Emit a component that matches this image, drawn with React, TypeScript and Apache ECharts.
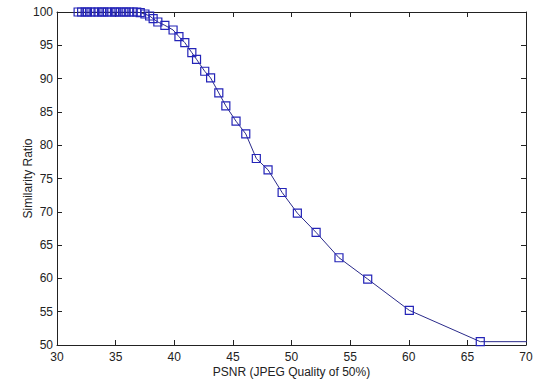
import React, { useEffect, useRef } from "react";
import * as echarts from "echarts";

const psnr: number[] = [
  31.8, 32.1, 32.4, 32.6, 32.9, 33.2, 33.5, 33.8, 34.0, 34.3, 34.6, 34.9, 35.1, 35.4,
  35.7, 35.9, 36.2, 36.5, 36.8, 37.1, 37.5, 37.9, 38.2, 38.6, 39.2, 39.9, 40.4, 40.9,
  41.5, 41.9, 42.6, 43.1, 43.8, 44.4, 45.27, 46.1, 47.0, 48.0, 49.2, 50.5, 52.1, 54.05,
  56.5, 60.05, 66.1, 75,
];
const similarity: number[] = [
  100, 100, 100, 100, 100, 100, 100, 100, 100, 100, 100, 100, 100, 100,
  100, 100, 100, 100, 100, 99.9, 99.7, 99.4, 99.0, 98.5, 98.0, 97.3, 96.3, 95.4,
  93.9, 92.9, 91.1, 90.1, 87.85, 85.9, 83.6, 81.7, 78.0, 76.3, 72.9, 69.8, 66.9, 63.1,
  59.9, 55.2, 50.5, 50.5,
];
const xTitle = "PSNR (JPEG Quality of 50%)";
const yTitle = "Similarity Ratio";

export default function App() {
  const ref = useRef<HTMLDivElement>(null);
  useEffect(() => {
    if (!ref.current) return;
    const chart = echarts.init(ref.current, null, { renderer: "svg" });
    const font = "Liberation Sans, Arial, sans-serif";
    const axisLine = { show: true, lineStyle: { color: "#222", width: 1 } };
    const tick = { show: true, inside: true, length: 5, lineStyle: { color: "#222" } };
    chart.setOption({
      animation: false,
      backgroundColor: "#fff",
      grid: { left: 57, right: 10, top: 12, bottom: 35, containLabel: false, outerBoundsMode: "none" },
      xAxis: [
        {
          type: "value",
          min: 30,
          max: 70,
          interval: 5,
          axisLine,
          axisTick: tick,
          splitLine: { show: false },
          axisLabel: { color: "#222", fontSize: 12, fontFamily: font, margin: 6 },
          name: xTitle,
          nameLocation: "middle",
          nameGap: 21,
          nameMoveOverlap: false,
          nameTextStyle: { color: "#222", fontSize: 12, fontFamily: font },
        },
        {
          type: "value",
          position: "top",
          min: 30,
          max: 70,
          interval: 5,
          axisLine,
          axisTick: tick,
          splitLine: { show: false },
          axisLabel: { show: false },
        },
      ],
      yAxis: [
        {
          type: "value",
          min: 50,
          max: 100,
          interval: 5,
          axisLine,
          axisTick: tick,
          splitLine: { show: false },
          axisLabel: { color: "#222", fontSize: 12, fontFamily: font, margin: 4 },
          name: yTitle,
          nameLocation: "middle",
          nameGap: 23,
          nameMoveOverlap: false,
          nameTextStyle: { color: "#222", fontSize: 12, fontFamily: font },
        },
        {
          type: "value",
          position: "right",
          min: 50,
          max: 100,
          interval: 5,
          axisLine,
          axisTick: tick,
          splitLine: { show: false },
          axisLabel: { show: false },
        },
      ],
      series: [
        {
          type: "line",
          data: psnr.map((x, i) => [x, similarity[i]]),
          clip: true,
          symbol: "rect",
          symbolSize: 8,
          showAllSymbol: true,
          lineStyle: { color: "#2a2a8a", width: 1 },
          itemStyle: { color: "transparent", borderColor: "#2424b8", borderWidth: 1.2 },
        },
      ],
    });
    return () => chart.dispose();
  }, []);
  return <div ref={ref} style={{ width: 536, height: 380, position: "absolute", left: 0, top: 0 }} />;
}
